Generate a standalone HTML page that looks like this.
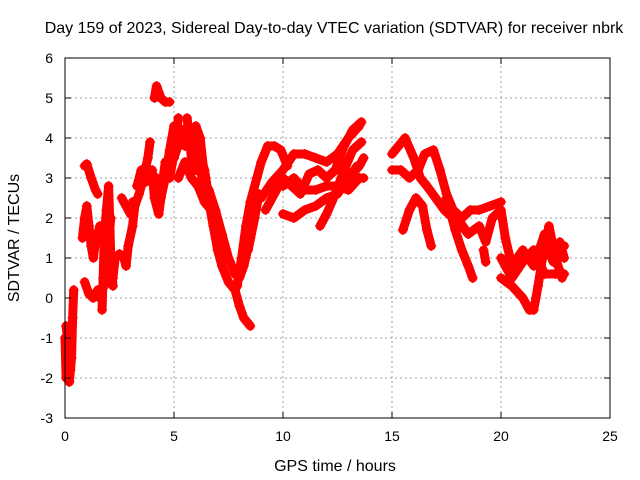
<!DOCTYPE html>
<html><head><meta charset="utf-8"><style>
html,body{margin:0;padding:0;background:#fff;}
svg{display:block;font-family:"Liberation Sans",sans-serif;}
</style></head><body>
<svg id="chart" width="640" height="480">
<text x="334" y="33" font-size="16" text-anchor="middle">Day 159 of 2023, Sidereal Day-to-day VTEC variation (SDTVAR) for receiver nbrk</text>
<text x="335" y="471" font-size="16" text-anchor="middle">GPS time / hours</text>
<text transform="translate(19,238) rotate(-90)" font-size="16" text-anchor="middle">SDTVAR / TECUs</text>
<g id="grid"></g>
<g id="marks"></g>
<rect x="65" y="58" width="545" height="360" fill="none" stroke="#000" stroke-width="1"/>
<g id="ticks"></g>
</svg>
<script>
const xTicks=[0,5,10,15,20,25];
const yTicks=[-3,-2,-1,0,1,2,3,4,5,6];
const tracks=[
[[0,-1.0],[0.05,-2.0],[0.1,-1.5],[0.15,-0.8],[0.2,-2.1],[0.3,-1.5],[0.35,-0.5],[0.4,0.2]],
[[0.05,-0.7],[0.15,-1.2],[0.25,-1.8],[0.3,-1.0]],
[[0.9,3.3],[1.0,3.35],[1.2,3.0],[1.4,2.7],[1.5,2.6]],
[[0.9,0.4],[1.1,0.1],[1.3,0.0],[1.5,0.2],[1.6,0.0]],
[[0.8,1.5],[0.9,2.0],[1.0,2.3],[1.1,1.8],[1.2,1.3],[1.3,1.0],[1.4,1.4],[1.5,1.6],[1.6,1.8]],
[[1.7,-0.3],[1.75,0.5],[1.8,1.5],[1.9,2.2],[2.0,2.8],[2.05,2.0],[2.1,1.0],[2.2,0.3]],
[[1.8,0.3],[1.9,0.8],[2.0,1.4],[2.1,2.0]],
[[2.2,0.5],[2.3,1.0],[2.5,1.1],[2.7,1.0],[2.8,0.8],[2.9,1.3],[3.1,1.8],[3.2,2.3],[3.4,2.6],[3.6,3.0],[3.8,3.5],[3.9,3.9]],
[[2.6,2.5],[2.8,2.3],[3.0,2.1],[3.1,2.4]],
[[3.3,2.8],[3.5,3.2],[3.7,2.9]],
[[4.0,3.2],[4.1,2.5],[4.3,2.1],[4.4,2.5],[4.6,3.0],[4.8,3.7],[5.0,4.3],[5.2,3.8],[5.4,4.2]],
[[4.2,3.0],[4.4,2.6],[4.6,3.4],[4.8,3.0],[5.0,3.6],[5.2,4.5]],
[[4.1,5.0],[4.2,5.3],[4.4,5.0],[4.6,4.9],[4.8,4.9]],
[[5.0,3.5],[5.3,4.0],[5.5,3.8],[5.7,4.2],[6.0,3.5],[6.3,3.0],[6.6,2.7],[6.9,2.2],[7.2,1.6],[7.5,1.0],[7.8,0.6],[8.0,0.5],[8.2,0.8],[8.5,1.5]],
[[5.2,3.0],[5.5,3.4],[5.8,3.0],[6.1,2.8],[6.4,2.4],[6.7,2.2],[7.0,1.8]],
[[5.6,4.5],[5.8,3.5],[6.0,3.2],[6.2,3.6],[6.4,3.2],[6.6,2.5]],
[[6.0,4.3],[6.2,4.0],[6.4,3.0],[6.6,2.4],[6.8,1.8],[7.0,1.2],[7.2,0.8],[7.5,0.4],[7.8,0.2],[8.0,-0.2],[8.2,-0.5],[8.5,-0.7]],
[[7.9,0.3],[8.1,1.0],[8.3,1.8],[8.5,2.4],[8.8,3.0],[9.0,3.4],[9.3,3.8],[9.6,3.8],[9.9,3.7],[10.2,3.3]],
[[8.4,1.2],[8.7,2.0],[8.9,2.6]],
[[9.0,2.5],[9.5,2.9],[10,3.2],[10.5,3.6],[11,3.6],[11.5,3.5],[12,3.4],[12.5,3.6],[13,4.0],[13.5,4.3]],
[[9.2,2.2],[9.6,2.6],[10,3.0],[10.4,2.8],[10.8,2.6],[11.2,3.1],[11.6,3.2],[12,3.0],[12.4,3.2],[12.8,3.8],[13.2,4.2],[13.6,4.4]],
[[10.0,2.8],[10.5,3.0],[11,2.7],[11.5,2.7],[12,2.8],[12.5,2.8],[13,2.7],[13.5,3.0],[13.7,3.0]],
[[10.0,2.1],[10.5,2.0],[11,2.2],[11.5,2.3],[12,2.5],[12.5,2.6],[13,3.0],[13.5,3.3],[13.7,3.5]],
[[11.7,1.8],[12,2.1],[12.4,2.6],[12.8,3.2],[13.2,3.7],[13.6,3.9]],
[[12.6,3.5],[13,3.0],[13.4,3.3]],
[[15.0,3.6],[15.3,3.8],[15.6,4.0],[16,3.5],[16.3,3.0],[16.6,2.8],[17,2.5],[17.4,2.2],[17.8,2.0],[18.2,1.8],[18.5,1.6]],
[[15.0,3.2],[15.4,3.2],[15.8,3.0],[16.2,3.2],[16.5,3.6],[16.9,3.7],[17.2,3.2],[17.5,2.6],[17.8,2.2],[18.2,2.0],[18.6,2.2],[19,2.2],[19.5,2.3],[20,2.4]],
[[15.5,1.7],[15.8,2.2],[16.1,2.5],[16.4,2.3],[16.6,1.7],[16.8,1.3]],
[[17.6,2.3],[17.9,1.7],[18.2,1.2],[18.5,0.8],[18.7,0.5]],
[[17.5,2.5],[18,2.0],[18.5,1.6],[19,1.8],[19.3,1.4],[19.6,2.0],[20,2.2],[20.2,1.5],[20.5,0.8],[21,1.2],[21.5,0.8],[22,1.6],[22.5,1.2],[22.9,1.3]],
[[20,0.5],[20.5,0.3],[21,0.0],[21.3,-0.3],[21.5,-0.3],[21.7,0.3],[21.9,1.0],[22.2,1.8],[22.5,1.0],[22.8,0.5]],
[[19.2,1.2],[19.3,0.9]],
[[20,1.0],[20.5,0.5],[21,0.9],[21.5,1.2],[22,0.6],[22.5,0.6],[22.9,0.6]],
[[21.8,0.8],[22.1,1.3],[22.4,0.9],[22.7,1.4],[22.9,1.0]]
];
const NS='http://www.w3.org/2000/svg';
const X0=65,X1=610,Y0=418,Y1=58;
const xs=v=>X0+(v-0)/(25-0)*(X1-X0);
const ys=v=>Y0-(v+3)/(6+3)*(Y0-Y1);
const grid=document.getElementById('grid'),ticks=document.getElementById('ticks'),marks=document.getElementById('marks');
function mk(tag,attrs,parent){const e=document.createElementNS(NS,tag);for(const k in attrs)e.setAttribute(k,attrs[k]);parent.appendChild(e);return e;}
xTicks.forEach(t=>{
 const x=xs(t);
 if(t>0&&t<25){const g=mk('line',{x1:x,x2:x,y1:Y0,y2:Y1,stroke:'#a0a0a0','stroke-dasharray':'2,3'},grid);
 
 }
 const tk=mk('path',{d:`M${x},${Y0}v-6M${x},${Y1}v6`,stroke:'#000'},ticks);
 
 
 const l=mk('text',{x:x,y:Y0+23,'font-size':14,'text-anchor':'middle'},ticks);l.textContent=t;
 
 
});
yTicks.forEach(t=>{
 const y=ys(t);
 if(t>-3&&t<6){const g=mk('line',{x1:X0,x2:X1,y1:y,y2:y,stroke:'#a0a0a0','stroke-dasharray':'2,3'},grid);
 
 }
 const tk=mk('path',{d:`M${X0},${y}h6M${X1},${y}h-6`,stroke:'#000'},ticks);
 
 
 const l=mk('text',{x:X0-12,y:y+5,'font-size':14,'text-anchor':'end'},ticks);l.textContent=t;
 
 
});
tracks.forEach(tr=>{
 const pl=mk('polyline',{points:tr.map(p=>xs(p[0])+','+ys(p[1])).join(' '),fill:'none',stroke:'#ff0000','stroke-width':9,'stroke-linejoin':'round','stroke-linecap':'round'},marks);
 
 
 tr.forEach(p=>{
  const x=xs(p[0]),y=ys(p[1]);
  const m=mk('path',{d:`M${x-5},${y}h10M${x},${y-5}v10`,stroke:'#ff0000','stroke-width':1.2},marks);
  
  
 });
});
</script>
</body></html>
